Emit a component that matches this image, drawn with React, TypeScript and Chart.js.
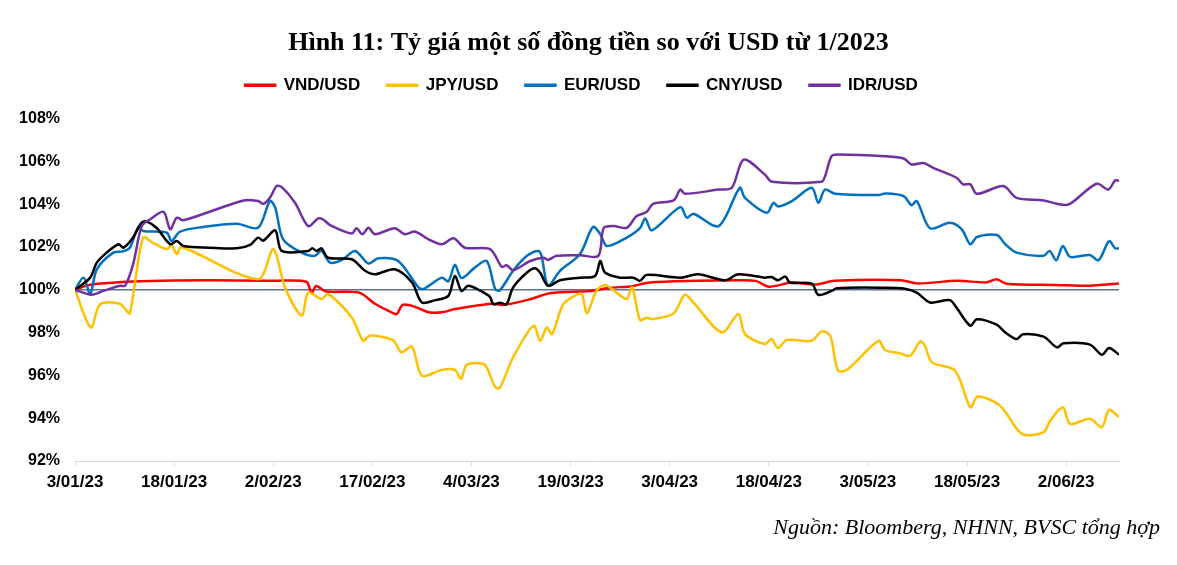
import { useEffect, useRef } from "react";
import { Chart, registerables } from "chart.js";

Chart.register(...registerables);

const titleText = "Hình 11: Tỷ giá một số đồng tiền so với USD từ 1/2023";
const sourceText = "Nguồn: Bloomberg, NHNN, BVSC tổng hợp";

const tickDays = [0, 15, 30, 45, 60, 75, 90, 105, 120, 135, 150];
const tickLabels = ["3/01/23", "18/01/23", "2/02/23", "17/02/23", "4/03/23", "19/03/23", "3/04/23", "18/04/23", "3/05/23", "18/05/23", "2/06/23"];
const lastDay = 158;

const seriesNames = ["VND/USD", "JPY/USD", "EUR/USD", "CNY/USD", "IDR/USD"];
const seriesColors = ["#ff0000", "#ffc000", "#0070c0", "#000000", "#7030a0"];

const vndDays = [0, 2, 4, 10, 20, 30, 35, 35.8, 36.5, 38, 43, 45.4, 47.9, 48.7, 49.6, 51.5, 53.5, 55.5, 57.5, 63, 65, 69, 72, 78, 81, 84, 87, 94, 100, 103, 105, 108.5, 112, 115, 125, 127.5, 133.5, 138, 139.5, 141, 148.5, 153.5, 158];
const vndValues = [100, 100.22, 100.3, 100.4, 100.45, 100.42, 100.38, 99.85, 100.18, 99.92, 99.87, 99.35, 98.95, 98.87, 99.3, 99.2, 98.95, 98.95, 99.1, 99.35, 99.3, 99.57, 99.85, 99.95, 100.1, 100.16, 100.34, 100.42, 100.45, 100.42, 100.15, 100.34, 100.25, 100.42, 100.45, 100.3, 100.42, 100.35, 100.5, 100.28, 100.23, 100.19, 100.3];

const jpyDays = [0, 2.4, 3.8, 6.8, 7.6, 8.3, 10.3, 11.8, 13.9, 14.6, 15.4, 16.1, 27.7, 30, 31.8, 34.3, 35.3, 37.3, 38.3, 41.9, 43.6, 44.6, 48.1, 49.4, 51, 52.5, 55.5, 57.5, 58.4, 59.3, 61.6, 62.3, 63.6, 64.3, 66.3, 69.4, 70.4, 71.4, 72.2, 73.9, 75.9, 76.7, 77.5, 78.9, 80.2, 81.4, 83.5, 84.3, 85.5, 86.5, 87.5, 90.6, 92.3, 93.8, 97.9, 100.4, 101.4, 104.4, 105.4, 106.4, 107.7, 111.5, 113, 114.3, 115.5, 117, 121.6, 122.6, 124.9, 126.4, 127.9, 128.6, 129.7, 133.2, 135.5, 136.6, 140, 143.3, 146.6, 147.6, 149.5, 150.6, 153.6, 155.4, 156.5, 158];
const jpyValues = [100, 98.24, 99.33, 99.35, 99.1, 98.9, 102.44, 102.2, 101.9, 102.1, 101.66, 102.0, 100.5, 101.9, 100.1, 98.8, 99.87, 99.57, 99.8, 98.71, 97.62, 97.86, 97.65, 97.08, 97.34, 95.99, 96.26, 96.26, 95.84, 96.5, 96.56, 96.38, 95.45, 95.42, 96.84, 98.32, 97.62, 98.24, 97.93, 99.33, 99.77, 99.8, 98.9, 99.95, 100.23, 100.0, 99.57, 100.14, 98.59, 98.7, 98.63, 98.9, 99.77, 99.33, 98.01, 98.87, 97.93, 97.47, 97.7, 97.28, 97.65, 97.62, 98.06, 97.85, 96.22, 96.3, 97.62, 97.19, 97.03, 96.92, 97.59, 97.4, 96.61, 96.22, 94.51, 95.01, 94.59, 93.27, 93.35, 93.89, 94.51, 93.74, 93.97, 93.58, 94.39, 94.05];

const eurDays = [0, 1.3, 2.3, 3.3, 5.8, 7.3, 8.3, 9.6, 10.3, 13.9, 14.6, 15.9, 19.4, 24.5, 27.7, 29.5, 30.3, 31.5, 34.3, 36.3, 37.3, 38.6, 40.4, 42.4, 44.4, 45.9, 48.9, 52, 52.8, 55.5, 56.5, 57.5, 58.5, 60.5, 62.3, 63.6, 64.3, 66.3, 68.4, 70.1, 70.6, 71.6, 73.4, 76.4, 78.4, 79.5, 80.5, 83.5, 85.5, 86.3, 87.3, 91.6, 92.6, 93.6, 97.4, 100.6, 101.4, 104.7, 105.7, 106.4, 108.5, 111.5, 112.5, 113.5, 115, 121.6, 122.6, 125.4, 126.6, 127.4, 129.4, 132.4, 134.2, 135.5, 136.5, 139.5, 140.8, 142.5, 146.6, 147.5, 148.5, 149.5, 150.6, 153.6, 154.9, 156.5, 157.4, 158];
const eurValues = [100, 100.57, 99.8, 100.96, 101.74, 101.8, 101.97, 102.94, 102.75, 102.67, 102.28, 102.72, 102.94, 103.09, 102.9, 104.15, 103.84, 102.36, 101.74, 101.59, 101.82, 101.27, 101.4, 101.82, 101.23, 101.48, 101.35, 100.11, 100.05, 100.57, 100.4, 101.17, 100.55, 101.04, 101.35, 100.03, 99.98, 100.89, 101.59, 101.82, 101.6, 100.19, 100.89, 101.66, 102.94, 102.6, 102.05, 102.44, 102.88, 103.34, 102.78, 103.87, 103.37, 103.56, 102.98, 104.77, 104.3, 103.6, 104.07, 103.9, 104.15, 104.77, 104.07, 104.69, 104.49, 104.43, 104.5, 104.38, 103.96, 104.15, 102.88, 103.14, 102.83, 102.13, 102.47, 102.56, 102.13, 101.74, 101.59, 101.82, 101.38, 102.05, 101.54, 101.63, 101.38, 102.28, 101.94, 101.94];

const cnyDays = [0, 2.3, 3.3, 4.8, 6.6, 7.3, 8.6, 10.1, 10.9, 12.4, 14.4, 15.4, 16.4, 20.4, 24.5, 26.5, 27.7, 28.5, 30.3, 31.3, 35.3, 35.9, 36.6, 37.3, 38.3, 41.9, 43.9, 45.4, 48.4, 51, 52.5, 54.5, 56.5, 57.5, 58.5, 59.5, 61.4, 62.8, 63.3, 64.3, 65.3, 66.3, 68.4, 69.6, 70.4, 71.6, 73.4, 76.4, 78.7, 79.5, 80.2, 82.5, 84.5, 85.5, 86.5, 91.6, 94.3, 98.4, 100.4, 104.4, 105.4, 106.4, 107.5, 108.2, 111.5, 112.5, 114.5, 115.3, 122.6, 125.4, 127.4, 129.4, 132.4, 133.4, 135.5, 136.5, 139.5, 140.8, 142.5, 143.5, 146.6, 148.6, 149.6, 153.6, 155.4, 156.5, 158];
const cnyValues = [100, 100.57, 101.27, 101.74, 102.13, 101.97, 102.36, 103.14, 103.19, 102.88, 102.13, 102.28, 102.05, 101.97, 101.94, 102.1, 102.44, 102.3, 102.78, 101.82, 101.82, 101.94, 101.82, 101.94, 101.5, 101.43, 100.89, 100.73, 100.96, 100.34, 99.41, 99.52, 99.72, 100.65, 99.95, 100.19, 99.95, 99.67, 99.33, 99.4, 99.33, 100.11, 100.81, 101.01, 100.8, 100.19, 100.45, 100.57, 100.65, 101.35, 100.81, 100.57, 100.57, 100.42, 100.7, 100.57, 100.73, 100.45, 100.73, 100.57, 100.6, 100.45, 100.62, 100.34, 100.29, 99.77, 99.95, 100.08, 100.1, 100.06, 99.87, 99.41, 99.52, 99.17, 98.32, 98.63, 98.37, 98.01, 97.7, 97.93, 97.81, 97.31, 97.5, 97.44, 96.97, 97.28, 96.97];

const idrDays = [0, 2.5, 4.3, 6.8, 7.6, 8.8, 10.1, 11.4, 13.4, 14.4, 15.4, 16.4, 25.5, 27.7, 28.5, 29.5, 30.5, 31.3, 33.3, 35.3, 36.8, 37.5, 38.6, 41.9, 42.6, 43.5, 44.4, 45.4, 48.4, 49.9, 51.5, 53.5, 55.5, 57.3, 59, 62.8, 64.6, 65.3, 66.3, 68.9, 70.9, 71.6, 72.9, 76.4, 79.2, 80, 81.5, 83.5, 85, 86.5, 87.5, 90.6, 91.6, 92.3, 97.4, 99.4, 101.2, 104.4, 105.5, 113, 113.5, 114.5, 115.5, 122.6, 125.4, 126.6, 128.4, 129.9, 133.4, 134.4, 135.5, 136.5, 140.5, 142.5, 146.6, 148.6, 150.4, 154.6, 156.4, 157.4, 158];
const idrValues = [100, 99.77, 99.95, 100.19, 100.2, 101.2, 102.98, 103.3, 103.65, 102.83, 103.37, 103.25, 104.18, 104.15, 104.02, 104.3, 104.85, 104.8, 104.07, 102.98, 103.34, 103.3, 103.03, 102.63, 102.88, 102.6, 102.9, 102.6, 102.88, 102.6, 102.72, 102.36, 102.13, 102.41, 101.97, 101.9, 101.07, 101.15, 100.92, 101.35, 101.5, 101.4, 101.59, 101.62, 101.59, 102.88, 102.98, 102.9, 103.45, 103.64, 104.02, 104.18, 104.69, 104.49, 104.69, 104.77, 106.09, 105.39, 105.05, 105.05, 105.3, 106.25, 106.33, 106.25, 106.14, 105.86, 105.93, 105.7, 105.24, 104.93, 104.93, 104.49, 104.85, 104.3, 104.18, 104.02, 103.99, 104.96, 104.69, 105.11, 105.1];

const seriesDays = [vndDays, jpyDays, eurDays, cnyDays, idrDays];
const seriesValues = [vndValues, jpyValues, eurValues, cnyValues, idrValues];

const yMin = 92;
const yMax = 108;
const yStep = 2;
const baseValue = 100;

const sansBold = (size: number) => ({ family: "'Liberation Sans', Arial, sans-serif", size, weight: "bold" as const });

export default function App() {
  const canvasRef = useRef<HTMLCanvasElement | null>(null);

  useEffect(() => {
    if (!canvasRef.current) return;
    const n = seriesNames.length;
    const datasets = seriesNames.map((name, i) => ({
      label: name,
      data: seriesDays[i].map((d, j) => ({ x: d, y: seriesValues[i][j] })),
      borderColor: seriesColors[i],
      backgroundColor: seriesColors[i],
      borderWidth: 2.5,
      pointRadius: 0,
      tension: 0.3,
      order: n - 1 - i,
    }));

    const headerTweaks = {
      id: "headerTweaks",
      afterInit(chart: any) {
        const lg = chart.legend;
        if (!lg) return;
        const orig = lg.fit;
        lg.fit = function () {
          orig.call(this);
          this.height += 15;
        };
      },
      afterLayout(chart: any) {
        const lg = chart.legend;
        if (lg) {
          lg.left += 18;
          lg.right += 18;
        }
        const tb = chart.titleBlock;
        if (tb) {
          tb.left += 25;
          tb.right += 25;
        }
      },
    };

    const sourcePlugin = {
      id: "sourceNote",
      afterDraw(chart: any) {
        const ctx = chart.ctx;
        ctx.save();
        ctx.font = "italic 22px 'Liberation Serif', 'Times New Roman', serif";
        ctx.fillStyle = "#000";
        ctx.textAlign = "right";
        ctx.textBaseline = "middle";
        ctx.fillText(sourceText, 1152, 520);
        ctx.restore();
      },
    };

    const chart = new Chart(canvasRef.current, {
      type: "line",
      data: { datasets },
      plugins: [headerTweaks, sourcePlugin],
      options: {
        animation: false,
        responsive: false,
        layout: { padding: { left: 0, right: 50, top: 0, bottom: 55 } },
        plugins: {
          title: {
            display: true,
            text: titleText,
            color: "#000",
            font: { family: "'Liberation Serif', 'Times New Roman', serif", size: 26, weight: "bold" },
            padding: { top: 20, bottom: -9.5 },
          },
          legend: {
            display: true,
            position: "top",
            labels: {
              color: "#000",
              font: sansBold(17),
              boxWidth: 30,
              boxHeight: 1,
              padding: 27,
              sort: (a: any, b: any) => a.datasetIndex - b.datasetIndex,
            },
          },
          tooltip: { enabled: false },
        },
        scales: {
          x: {
            type: "linear",
            min: 0,
            max: lastDay,
            afterFit: (scale: any) => {
              scale.height = 40;
            },
            afterBuildTicks: (scale: any) => {
              scale.ticks = tickDays.map((v) => ({ value: v }));
            },
            ticks: {
              autoSkip: false,
              maxRotation: 0,
              minRotation: 0,
              padding: 6,
              color: "#000",
              font: sansBold(17),
              callback: (_v: any, i: number) => tickLabels[i],
            },
            grid: {
              drawOnChartArea: false,
              drawTicks: true,
              tickLength: 5,
              color: "#d9d9d9",
            },
            border: { display: true, color: "#d9d9d9", width: 1 },
          },
          y: {
            min: yMin,
            max: yMax,
            afterFit: (scale: any) => {
              scale.width = 67;
            },
            ticks: {
              stepSize: yStep,
              padding: 15,
              color: "#000",
              font: sansBold(16),
              callback: (v: any) => `${v}%`,
            },
            grid: {
              drawTicks: false,
              lineWidth: 1.5,
              color: (c: any) => (c.tick && c.tick.value === baseValue ? "#5b7290" : "rgba(0,0,0,0)"),
            },
            border: { display: false },
          },
        },
      },
    } as any);

    return () => chart.destroy();
  }, []);

  return (
    <div style={{ width: 1161, height: 548 }}>
      <canvas ref={canvasRef} width={1161} height={548} style={{ display: "block" }} />
    </div>
  );
}
